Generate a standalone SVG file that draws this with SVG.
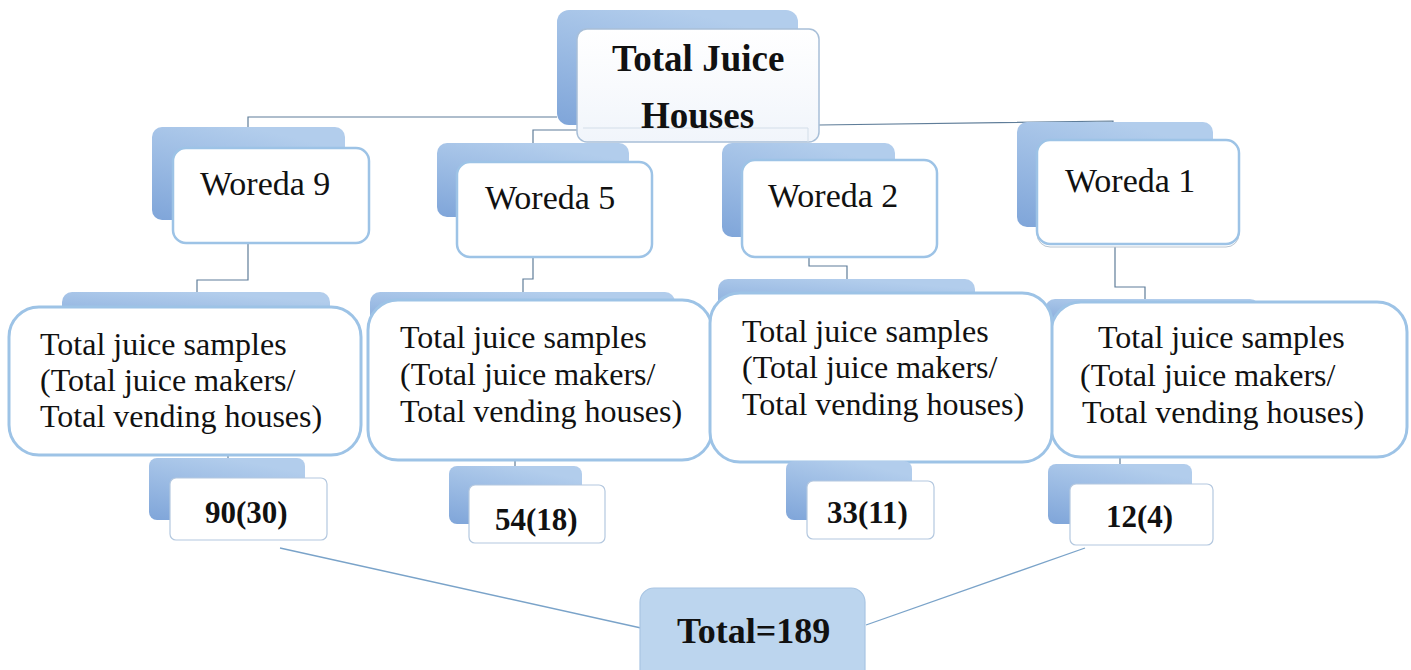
<svg xmlns="http://www.w3.org/2000/svg" width="1411" height="670" viewBox="0 0 1411 670">
<defs>
<linearGradient id="sh" x1="0" y1="1" x2="0.5" y2="0"><stop offset="0" stop-color="#7fa5d9"/><stop offset="1" stop-color="#b2cdec"/></linearGradient>
<linearGradient id="topfill" x1="0" y1="0" x2="0" y2="1"><stop offset="0" stop-color="#ffffff"/><stop offset="1" stop-color="#f1f5fb"/></linearGradient>
</defs>
<style>
.sh{fill:url(#sh)}
.wf{fill:#fff;stroke:#9dc3e6;stroke-width:2.5}
.sf{fill:#fff;stroke:#9dc3e6;stroke-width:3}
.nf{fill:#fff;stroke:#b4c8df;stroke-width:1.2}
.conn{fill:none;stroke:#5f7d99;stroke-width:1.2}
.conn2{fill:none;stroke:#7aa3c9;stroke-width:1.3}
.t{font-family:"Liberation Serif","Times New Roman",serif;fill:#111}
.b{font-weight:bold}
.w{font-size:34px}
.s{font-size:32px}
.n{font-size:31px;font-weight:bold}
</style>
<g id="connectors">
<path class="conn" d="M557,117 H248 V128"/>
<path class="conn" d="M578,130 H533 V143"/>
<path class="conn" d="M819,125 L1113,121 V122"/>
<path class="conn" d="M248,243 V280 H197 V292"/>
<path class="conn" d="M533,257 V279 H523 V292"/>
<path class="conn" d="M809,257 V266 H847 V279"/>
<path class="conn" d="M1115,245 V287 H1145 V300"/>
<path class="conn" d="M228,455 V458"/>
<path class="conn" d="M515,460 V466"/>
<path class="conn" d="M1120,457 V464"/>
<path class="conn2" d="M280,548 L641,628"/>
<path class="conn2" d="M1085,548 L866,625"/>
</g>
<g id="top">
<rect class="sh" x="557" y="10" width="241" height="115" rx="12"/>
<rect x="577" y="29" width="242" height="113" rx="10" fill="url(#topfill)" stroke="#a8bfd8" stroke-width="1.5"/>
<path d="M583,128 H808 V142" fill="none" stroke="#d3dee9" stroke-width="1"/>
<text class="t b" x="612" y="71" font-size="37">Total Juice</text>
<text class="t b" x="641" y="128" font-size="37">Houses</text>
</g>
<g id="woreda9">
<rect class="sh" x="152" y="127" width="193" height="93" rx="10"/>
<rect class="wf" x="173" y="148" width="196" height="95" rx="13"/>
<text class="t w" x="200" y="195">Woreda 9</text>
</g>
<g id="woreda5">
<rect class="sh" x="437" y="143" width="192" height="74" rx="10"/>
<rect class="wf" x="457" y="162" width="195" height="95" rx="13"/>
<text class="t w" x="485" y="209">Woreda 5</text>
</g>
<g id="woreda2">
<rect class="sh" x="722" y="143" width="173" height="94" rx="10"/>
<rect class="wf" x="742" y="160" width="195" height="97" rx="13"/>
<text class="t w" x="768" y="207">Woreda 2</text>
</g>
<g id="woreda1">
<rect class="sh" x="1017" y="122" width="196" height="105" rx="10"/>
<rect x="1037" y="143" width="202" height="104" rx="13" fill="#fff" stroke="#b8c4d0" stroke-width="1"/>
<rect class="wf" x="1037" y="140" width="202" height="104" rx="13"/>
<text class="t w" x="1065" y="192">Woreda 1</text>
</g>
<g id="samples9">
<rect class="sh" x="62" y="292" width="268" height="40" rx="10"/>
<rect class="sf" x="9" y="307" width="352" height="148" rx="30"/>
<text class="t s" x="40" y="355">Total juice samples</text>
<text class="t s" x="40" y="391">(Total juice makers/</text>
<text class="t s" x="40" y="427">Total vending houses)</text>
</g>
<g id="samples5">
<rect class="sh" x="370" y="292" width="305" height="40" rx="10"/>
<rect class="sf" x="368" y="300" width="344" height="160" rx="30"/>
<text class="t s" x="400" y="348">Total juice samples</text>
<text class="t s" x="400" y="385">(Total juice makers/</text>
<text class="t s" x="400" y="422">Total vending houses)</text>
</g>
<g id="samples1">
<rect class="sh" x="1045" y="299" width="215" height="30" rx="10"/>
<rect class="sf" x="1051" y="302" width="356" height="155" rx="30"/>
<text class="t s" x="1098" y="348">Total juice samples</text>
<text class="t s" x="1080" y="386">(Total juice makers/</text>
<text class="t s" x="1082" y="423">Total vending houses)</text>
</g>
<g id="samples2">
<rect class="sh" x="718" y="279" width="257" height="40" rx="10"/>
<rect class="sf" x="710" y="293" width="342" height="169" rx="30"/>
<text class="t s" x="742" y="342">Total juice samples</text>
<text class="t s" x="742" y="378">(Total juice makers/</text>
<text class="t s" x="742" y="415">Total vending houses)</text>
</g>
<g id="n90">
<rect class="sh" x="149" y="458" width="156" height="62" rx="8"/>
<rect class="nf" x="170" y="478" width="157" height="62" rx="6"/>
<text class="t n" x="205" y="523">90(30)</text>
</g>
<g id="n54">
<rect class="sh" x="449" y="466" width="133" height="58" rx="8"/>
<rect class="nf" x="469" y="485" width="136" height="58" rx="6"/>
<text class="t n" x="495" y="530">54(18)</text>
</g>
<g id="n33">
<rect class="sh" x="786" y="461" width="126" height="59" rx="8"/>
<rect class="nf" x="807" y="481" width="127" height="58" rx="6"/>
<text class="t n" x="827" y="523">33(11)</text>
</g>
<g id="n12">
<rect class="sh" x="1048" y="464" width="144" height="60" rx="8"/>
<rect class="nf" x="1070" y="484" width="143" height="61" rx="6"/>
<text class="t n" x="1106" y="527">12(4)</text>
</g>
<g id="total">
<rect x="640" y="588" width="225" height="100" rx="14" fill="#bcd5ee" stroke="#a9c5e3" stroke-width="1.2"/>
<text class="t b" x="677" y="643" font-size="36">Total=189</text>
</g>
</svg>
